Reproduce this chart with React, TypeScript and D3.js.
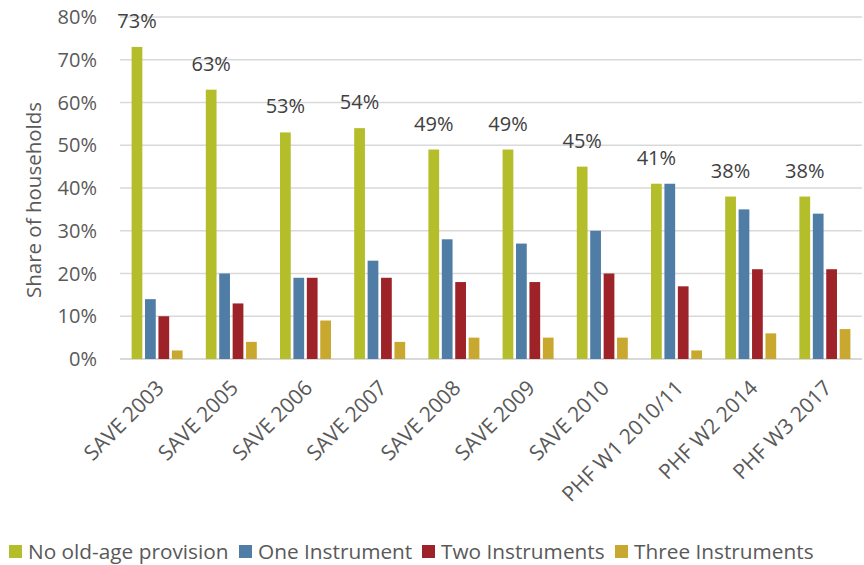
import React from "react";
import * as d3 from "d3";

const categories = [
  "SAVE 2003",
  "SAVE 2005",
  "SAVE 2006",
  "SAVE 2007",
  "SAVE 2008",
  "SAVE 2009",
  "SAVE 2010",
  "PHF W1 2010/11",
  "PHF W2 2014",
  "PHF W3 2017",
];

const seriesNames = [
  "No old-age provision",
  "One Instrument",
  "Two Instruments",
  "Three Instruments",
];

const noProvision = [73, 63, 53, 54, 49, 49, 45, 41, 38, 38];
const oneInstrument = [14, 20, 19, 23, 28, 27, 30, 41, 35, 34];
const twoInstruments = [10, 13, 19, 19, 18, 18, 20, 17, 21, 21];
const threeInstruments = [2, 4, 9, 4, 5, 5, 5, 2, 6, 7];

const yTicks = [0, 10, 20, 30, 40, 50, 60, 70, 80];

const colors = ["#b4bd2a", "#507da6", "#9e2328", "#c9a82f"];

const W = 864;
const H = 565;
const FONT = "'Open Sans', sans-serif";

export default function App() {
  const seriesValues = [noProvision, oneInstrument, twoInstruments, threeInstruments];

  const x0 = d3.scaleBand<string>().domain(categories).range([120, 862]);
  const x1 = d3
    .scaleBand<string>()
    .domain(seriesNames)
    .range([-25.5, 25.5])
    .paddingInner(0.2);
  const y = d3.scaleLinear().domain([0, 80]).range([359, 17]);

  const legendItems = [
    { name: seriesNames[0], sx: 9, tx: 28 },
    { name: seriesNames[1], sx: 239, tx: 258 },
    { name: seriesNames[2], sx: 422, tx: 441 },
    { name: seriesNames[3], sx: 615, tx: 634 },
  ];

  return (
    <svg
      width={W}
      height={H}
      style={{ position: "absolute", left: 0, top: 0, background: "#fff" }}
      fontFamily={FONT}
    >
      {/* gridlines */}
      {yTicks.map((t) => (
        <line
          key={t}
          x1={120}
          x2={862}
          y1={y(t)}
          y2={y(t)}
          stroke="#d9d9d9"
          strokeWidth={t === 0 ? 2 : 1.5}
        />
      ))}

      {/* y tick labels */}
      {yTicks.map((t) => (
        <text
          key={t}
          x={97}
          y={y(t)}
          dy="0.35em"
          textAnchor="end"
          fontSize={20}
          fill="#595959"
        >
          {`${t}%`}
        </text>
      ))}

      {/* y axis title */}
      <text
        transform={`translate(41,${200}) rotate(-90)`}
        textAnchor="middle"
        fontSize={20.5}
        fill="#595959"
      >
        Share of households
      </text>

      {/* bars */}
      {categories.map((c, i) => (
        <g key={c} transform={`translate(${(x0(c) ?? 0) + x0.bandwidth() / 2},0)`}>
          {seriesNames.map((s, k) => {
            const v = seriesValues[k][i];
            return (
              <rect
                key={s}
                x={x1(s)}
                y={y(v)}
                width={x1.bandwidth()}
                height={y(0) - y(v)}
                fill={colors[k]}
              />
            );
          })}
          <text
            x={(x1(seriesNames[0]) ?? 0) + x1.bandwidth() / 2}
            y={y(noProvision[i]) - 19}
            textAnchor="middle"
            fontSize={20}
            fill="#404040"
          >
            {`${noProvision[i]}%`}
          </text>
        </g>
      ))}

      {/* category labels */}
      {categories.map((c) => (
        <text
          key={c}
          transform={`translate(${(x0(c) ?? 0) + x0.bandwidth() / 2 + 3},${384}) rotate(-45)`}
          textAnchor="end"
          fontSize={21}
          fill="#595959"
          dy="0.35em"
        >
          {c}
        </text>
      ))}

      {/* legend */}
      {legendItems.map((d, k) => (
        <g key={d.name}>
          <rect x={d.sx} y={545} width={13} height={13} fill={colors[k]} />
          <text x={d.tx} y={559} fontSize={20.8} fill="#595959">
            {d.name}
          </text>
        </g>
      ))}
    </svg>
  );
}
